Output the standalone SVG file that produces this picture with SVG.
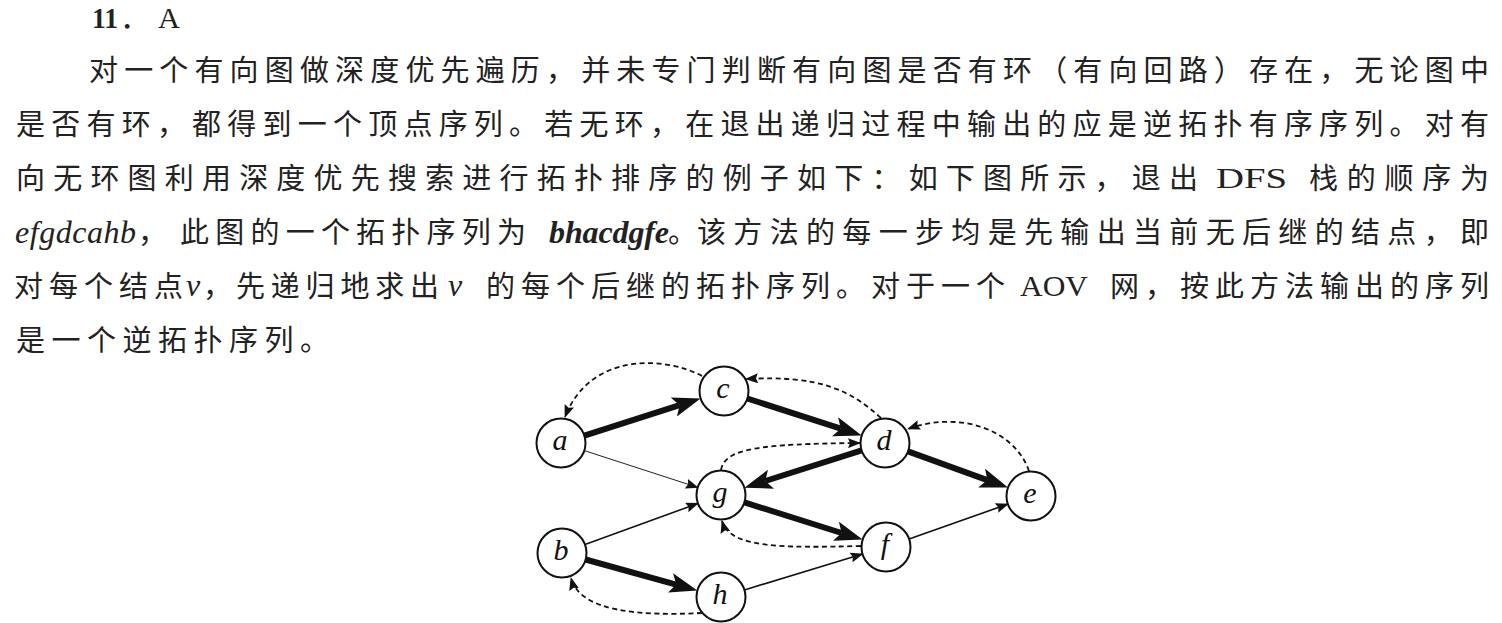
<svg xmlns="http://www.w3.org/2000/svg" width="1502" height="623" viewBox="0 0 1502 623">
<style>
.zh{font-family:"Noto Sans CJK SC","Noto Sans CJK TC",sans-serif;font-size:29px;fill:#222}
.lat{font-family:"Liberation Serif","Noto Sans CJK SC",serif;font-size:30px;fill:#222}
.it{font-family:"Liberation Serif",serif;font-style:italic;font-size:32px;fill:#222}
.node circle{fill:#fff;stroke:#111;stroke-width:2}
.node text{font-family:"Liberation Serif",serif;font-style:italic;font-size:30px;fill:#111;text-anchor:middle}
.thick{stroke:#111;stroke-width:6;fill:none;marker-end:url(#ah-thick)}
.thin{stroke:#111;stroke-width:1.6;fill:none;marker-end:url(#ah-small)}
.hair{stroke:#222;stroke-width:1;fill:none;marker-end:url(#ah-small)}
.dash{stroke:#111;stroke-width:1.8;fill:none;stroke-dasharray:5 3.5;marker-end:url(#ah-small)}
</style>
<defs>
<marker id="ah-thick" markerUnits="userSpaceOnUse" viewBox="0 0 28 20" markerWidth="28" markerHeight="20" refX="6" refY="10" orient="auto"><path d="M0,0 L28,10 L0,20 L6,10 Z" fill="#111"/></marker>
<marker id="ah-small" markerUnits="userSpaceOnUse" viewBox="0 0 13 10" markerWidth="13" markerHeight="10" refX="12" refY="5" orient="auto"><path d="M0,0 L13,5 L0,10 L2,5 Z" fill="#111"/></marker>
</defs>
<rect width="1502" height="623" fill="#fff"/>
<g id="paragraph">
<text y="28" class="lat" font-size="20"><tspan x="92" textLength="26" lengthAdjust="spacingAndGlyphs" font-weight="bold">11</tspan><tspan x="120">．</tspan><tspan x="158" textLength="22" lengthAdjust="spacingAndGlyphs">A</tspan></text>
<text class="zh" x="89" y="81" textLength="1400" lengthAdjust="spacing">对一个有向图做深度优先遍历，并未专门判断有向图是否有环（有向回路）存在，无论图中</text>
<text class="zh" x="16" y="135" textLength="1473" lengthAdjust="spacing">是否有环，都得到一个顶点序列。若无环，在退出递归过程中输出的应是逆拓扑有序序列。对有</text>
<text class="zh" x="16" y="189" textLength="1182" lengthAdjust="spacing">向无环图利用深度优先搜索进行拓扑排序的例子如下：如下图所示，退出</text>
<text class="lat" x="1216" y="188" textLength="71" lengthAdjust="spacingAndGlyphs">DFS</text>
<text class="zh" x="1309" y="189" textLength="180" lengthAdjust="spacing">栈的顺序为</text>
<text class="it" x="15" y="243" textLength="121" lengthAdjust="spacing">efgdcahb</text>
<text class="zh" x="138" y="243">，</text>
<text class="zh" x="180" y="243" textLength="346" lengthAdjust="spacing">此图的一个拓扑序列为</text>
<text class="it" x="549" y="243" textLength="120" lengthAdjust="spacing" font-weight="bold">bhacdgfe</text>
<text class="zh" x="668" y="243">。</text>
<text class="zh" x="697" y="243" textLength="792" lengthAdjust="spacing">该方法的每一步均是先输出当前无后继的结点，即</text>
<text class="zh" x="14" y="297" textLength="169" lengthAdjust="spacing">对每个结点</text>
<text class="it" x="186" y="296" font-size="30">v</text>
<text class="zh" x="203" y="297">，</text>
<text class="zh" x="236" y="297" textLength="203" lengthAdjust="spacing">先递归地求出</text>
<text class="it" x="448" y="296" font-size="30">v</text>
<text class="zh" x="486" y="297" textLength="519" lengthAdjust="spacing">的每个后继的拓扑序列。对于一个</text>
<text class="lat" x="1020" y="296" textLength="68" lengthAdjust="spacingAndGlyphs">AOV</text>
<text class="zh" x="1110" y="297" textLength="379" lengthAdjust="spacing">网，按此方法输出的序列</text>
<text class="zh" x="16" y="351" textLength="313" lengthAdjust="spacing">是一个逆拓扑序列。</text>
</g>
<g id="connectors">
<path class="thick" d="M584.4,435.6 L679.6,405.2"/>
<path class="thick" d="M747.3,398.5 L840.8,428.7"/>
<path class="thick" d="M861.6,450.4 L765.3,481.0"/>
<path class="thick" d="M908,451.4 L987.3,480.1"/>
<path class="thick" d="M744.4,502.4 L841.6,533.0"/>
<path class="thick" d="M585.6,559.5 L676.2,584.6"/>
<path class="hair" d="M584.3,450.6 L697.7,487.4"/>
<path class="thin" d="M585,544.6 L698,503.4"/>
<path class="thin" d="M744.4,589.9 L862.5,554.1"/>
<path class="thin" d="M909.1,538.9 L1007.9,504.1"/>
<path class="dash" d="M702,376 C665,356 590,352 565,417"/>
<path class="dash" d="M881,418 C850,390 820,375 746,379"/>
<path class="dash" d="M1029,471 C1015,430 960,410 908,429"/>
<path class="dash" d="M721,470 C725,448 760,444 860,443"/>
<path class="dash" d="M861,546 C780,548 730,548 722,521"/>
<path class="dash" d="M702,613 C640,616 580,612 571,578"/>
</g>
<g id="node-a" class="node"><circle cx="561" cy="443" r="24.5"/><text x="560" y="450">a</text></g>
<g id="node-c" class="node"><circle cx="724" cy="391" r="24.5"/><text x="723" y="398">c</text></g>
<g id="node-d" class="node"><circle cx="885" cy="443" r="24.5"/><text x="884" y="450">d</text></g>
<g id="node-e" class="node"><circle cx="1031" cy="496" r="24.5"/><text x="1030" y="503">e</text></g>
<g id="node-g" class="node"><circle cx="721" cy="495" r="24.5"/><text x="720" y="502">g</text></g>
<g id="node-f" class="node"><circle cx="886" cy="547" r="24.5"/><text x="885" y="554">f</text></g>
<g id="node-b" class="node"><circle cx="562" cy="553" r="24.5"/><text x="561" y="560">b</text></g>
<g id="node-h" class="node"><circle cx="721" cy="597" r="24.5"/><text x="720" y="604">h</text></g>
</svg>
